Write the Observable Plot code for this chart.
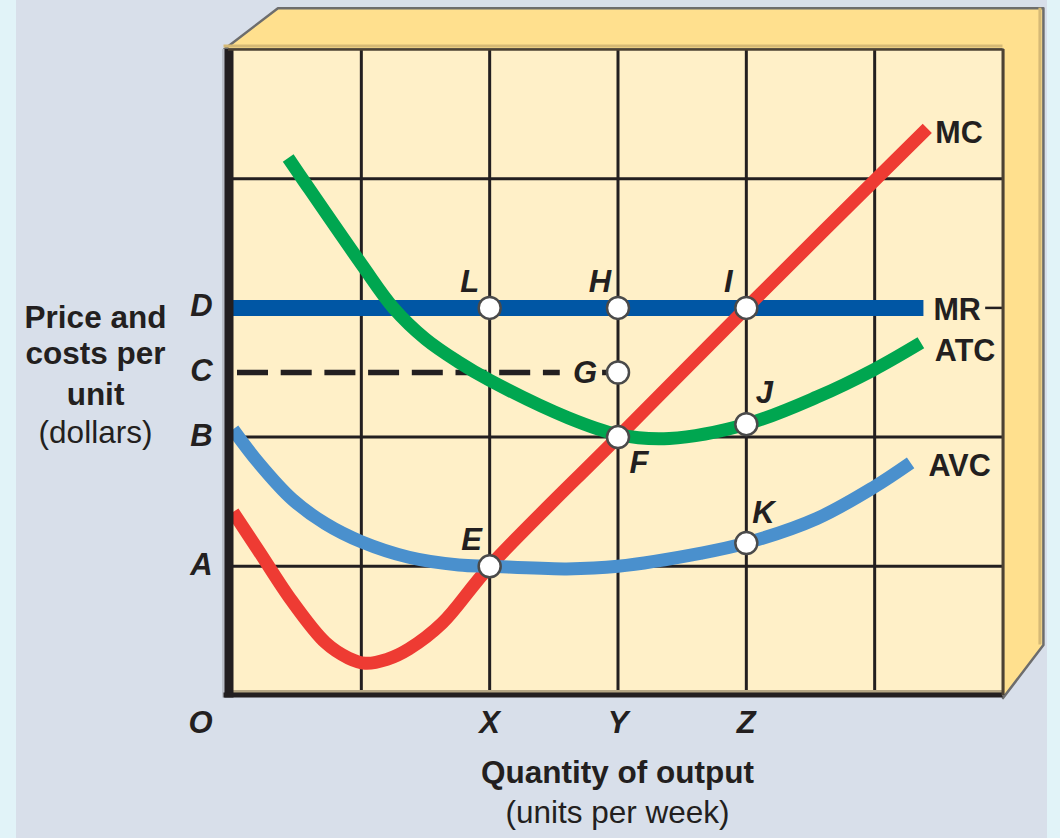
<!DOCTYPE html>
<html><head><meta charset="utf-8">
<script src="https://cdn.jsdelivr.net/npm/d3@7"></script>
<script src="https://cdn.jsdelivr.net/npm/@observablehq/plot@0.6"></script>
<style>
html,body{margin:0;padding:0;width:1060px;height:838px;overflow:hidden;background:#d8dfea;}
#strip-l{position:absolute;left:0;top:0;width:16px;height:838px;background:#e1f3f8;}
#strip-r{position:absolute;left:1047px;top:0;width:13px;height:838px;background:#e1f3f8;}
#chart{position:absolute;left:0;top:0;}
</style></head><body>
<div id="strip-l"></div><div id="strip-r"></div><div id="chart"></div>
<script>
// ---- data ----
const xDomain = [0, 6];
const yDomain = [0, 5];
const gridXs = [1, 2, 3, 4, 5];
const gridYs = [1, 2, 4];   // the line at 3 lies under MR

const xTickLabels = ["X", "Y", "Z"];
const xTickValues = [2, 3, 4];
const yTickLabels = ["A", "B", "C", "D"];
const yTickValues = [1, 2, 2.5, 3];

const mcX  = [0, 0.2, 0.46, 0.72, 0.9, 1.03, 1.2, 1.37, 1.63, 2, 3, 4, 5.41];
const mcY  = [1.42, 1.12, 0.73, 0.41, 0.29, 0.25, 0.28, 0.36, 0.56, 1.0, 2.0, 3.0, 4.39];
const atcX = [0.43, 0.54, 1.0, 1.25, 1.5, 1.76, 2, 2.61, 3, 3.4, 4, 4.55, 4.99, 5.36];
const atcY = [4.16, 4.0, 3.34, 3.0, 2.76, 2.58, 2.44, 2.15, 2.02, 1.99, 2.1, 2.31, 2.52, 2.73];
const avcX = [0, 0.2, 0.46, 0.72, 1.0, 1.37, 1.76, 2, 2.6, 3, 3.64, 4, 4.55, 4.99, 5.28];
const avcY = [2.06, 1.8, 1.52, 1.33, 1.19, 1.07, 1.01, 1.0, 0.98, 1.0, 1.1, 1.18, 1.37, 1.61, 1.8];
const mrX  = [0, 5.38];
const mrY  = [3, 3];
const cLevel = 2.5;

const pointNames = ["E", "F", "G", "H", "I", "J", "K", "L"];
const pointX = [2, 3, 3, 3, 4, 4, 4, 2];
const pointY = [1, 2, 2.5, 3, 3, 2.1, 1.18, 3];

const curveNames = ["MC", "MR", "ATC", "AVC"];
const yTitleLines = ["Price and", "costs per", "unit", "(dollars)"];
const xTitleLines = ["Quantity of output", "(units per week)"];
const originLabel = "O";

// ---- build tables ----
const toPts = (xs, ys) => xs.map((x, i) => ({x, y: ys[i]}));
const mc = toPts(mcX, mcY), atc = toPts(atcX, atcY), avc = toPts(avcX, avcY), mr = toPts(mrX, mrY);
const curveEnds = [mc, mr, atc, avc].map((c, i) => ({name: curveNames[i], ...c[c.length - 1]}));
const points = pointNames.map((n, i) => ({name: n, x: pointX[i], y: pointY[i]}));
const xTicks = xTickLabels.map((l, i) => ({label: l, x: xTickValues[i]}));
const yTicks = yTickLabels.map((l, i) => ({label: l, y: yTickValues[i]}));

// ---- styling ----
const FONT = "Liberation Sans, Arial, Helvetica, sans-serif";
const INK = "#231f20";
const RED = "#ee3b33", GREEN = "#00a650", AVCBLUE = "#4a90cd", MRBLUE = "#0056a4";
const [X0, X1] = xDomain, [Y0, Y1] = yDomain;
const DX = 0.315, DY = 0.32;
const box = [
  {x: X0 - 0.07, y: Y1}, {x: X0 + 0.35, y: Y1 + DY}, {x: X1 + DX, y: Y1 + DY},
  {x: X1 + DX, y: Y0 + 0.39}, {x: X1, y: Y0 - 0.02}, {x: X1, y: Y1}
];
const labelOffsets = {
  E: [-18, -16], F: [21, 36], G: [-33, 10], H: [-18, -15.5], I: [-18, -15.5],
  J: [18, -21], K: [17, -20], L: [-20, -15.5]
};
const curveLabelOffsets = {MC: [8, 15], MR: [10, 12.5], ATC: [14, 18], AVC: [18, 13]};

const txt = {fontFamily: FONT, fill: INK, lineAnchor: "bottom"};
const curveStyle = {x: "x", y: "y", strokeWidth: 13, curve: "catmull-rom", strokeLinecap: "butt"};

const chart = Plot.plot({
  width: 1060, height: 838,
  marginLeft: 232.5, marginRight: 57.5, marginTop: 49, marginBottom: 143,
  x: {domain: xDomain, axis: null},
  y: {domain: yDomain, axis: null},
  style: {background: "transparent", overflow: "visible"},
  marks: [
    // 3-D box faces
    Plot.line(box, {x: "x", y: "y", fill: "#ffe08e", stroke: "#6d6d6d", strokeWidth: 2.5, curve: "linear-closed"}),
    Plot.ruleY([Y1], {x1: X0 - 0.07, x2: X1, stroke: "#d5b976", strokeWidth: 3, dy: -3.5}),
    Plot.ruleX([X1 + DX], {y1: Y0 + 0.39, y2: Y1 + DY, stroke: "#d5b976", strokeWidth: 3, dx: -3.5}),
    Plot.frame({fill: "#fff0c8", stroke: null}),
    // grid
    Plot.ruleX(gridXs, {stroke: INK, strokeWidth: 3}),
    Plot.ruleY(gridYs, {stroke: INK, strokeWidth: 3}),
    // dashed C line
    Plot.ruleY([cLevel], {x1: X0, x2: xTickValues[1] - 0.45, stroke: INK, strokeWidth: 5.5, strokeDasharray: "31,12.7", strokeDashoffset: -4.5}),
    Plot.ruleY([cLevel], {x1: xTickValues[1] - 0.12, x2: xTickValues[1], stroke: INK, strokeWidth: 5.5}),
    // curves
    Plot.line(mr, {x: "x", y: "y", stroke: MRBLUE, strokeWidth: 16, strokeLinecap: "butt"}),
    Plot.ruleY([mrY[0]], {x1: X1 - 0.135, x2: X1, stroke: INK, strokeWidth: 2.5}),
    Plot.line(mc, {...curveStyle, stroke: RED}),
    Plot.line(avc, {...curveStyle, stroke: AVCBLUE}),
    Plot.line(atc, {...curveStyle, stroke: GREEN}),
    // frame edges
    Plot.ruleX([X0], {y1: Y0 - 0.02, y2: Y1, stroke: "#bcc1ca", strokeWidth: 3, dx: -9.5}),
    Plot.ruleY([Y0], {x1: X0, x2: X1, stroke: "#b5a683", strokeWidth: 3, dy: -4}),
    Plot.ruleX([X0], {y1: Y0 - 0.02, y2: Y1, stroke: INK, strokeWidth: 9, dx: -4}),
    Plot.ruleY([Y0], {x1: X0 - 0.07, x2: X1, stroke: INK, strokeWidth: 5, dy: -0.5}),
    Plot.ruleY([Y1], {x1: X0 - 0.035, x2: X1, stroke: "#4d4232", strokeWidth: 2.5}),
    Plot.ruleX([X1], {y1: Y0, y2: Y1, stroke: "#4d4232", strokeWidth: 3}),
    // points
    Plot.dot(points, {x: "x", y: "y", r: 11, fill: "white", stroke: "#4a4a4a", strokeWidth: 2.5}),
    // point labels
    ...points.map(p => Plot.text([p], {x: "x", y: "y", text: "name", ...txt,
      fontSize: 31, fontWeight: "bold", fontStyle: "italic", textAnchor: "middle",
      dx: labelOffsets[p.name][0], dy: labelOffsets[p.name][1]})),
    // curve labels
    ...curveEnds.map(c => Plot.text([c], {x: "x", y: "y", text: "name", ...txt,
      fontSize: 30.5, fontWeight: "bold", textAnchor: "start", letterSpacing: "-0.3px",
      dx: curveLabelOffsets[c.name][0], dy: curveLabelOffsets[c.name][1]})),
    // axis letters
    Plot.text(yTicks, {x: X0, y: "y", text: "label", ...txt, fontSize: 31, fontWeight: "bold", fontStyle: "italic",
      textAnchor: "middle", dx: -31.5, dy: 8.5}),
    Plot.text(xTicks, {x: "x", y: Y0, text: "label", ...txt, fontSize: 31, fontWeight: "bold", fontStyle: "italic",
      textAnchor: "middle", dy: 37}),
    Plot.text([originLabel], {x: X0, y: Y0, text: d => d, ...txt, fontSize: 31, fontWeight: "bold", fontStyle: "italic",
      textAnchor: "middle", dx: -32.5, dy: 37}),
    // axis titles
    ...yTitleLines.map((t, i) => Plot.text([t], {frameAnchor: "left", text: d => d, ...txt, fontSize: 31.5,
      fontWeight: i < 3 ? "bold" : "normal", textAnchor: "middle", dx: -137.5, dy: [-45, -9, 32, 70][i]})),
    ...xTitleLines.map((t, i) => Plot.text([t], {frameAnchor: "bottom", text: d => d, ...txt, fontSize: 31.5,
      fontWeight: i < 1 ? "bold" : "normal", textAnchor: "middle", dx: -0.5, dy: [87, 127][i]}))
  ]
});
document.getElementById("chart").appendChild(chart);
</script>
</body></html>
